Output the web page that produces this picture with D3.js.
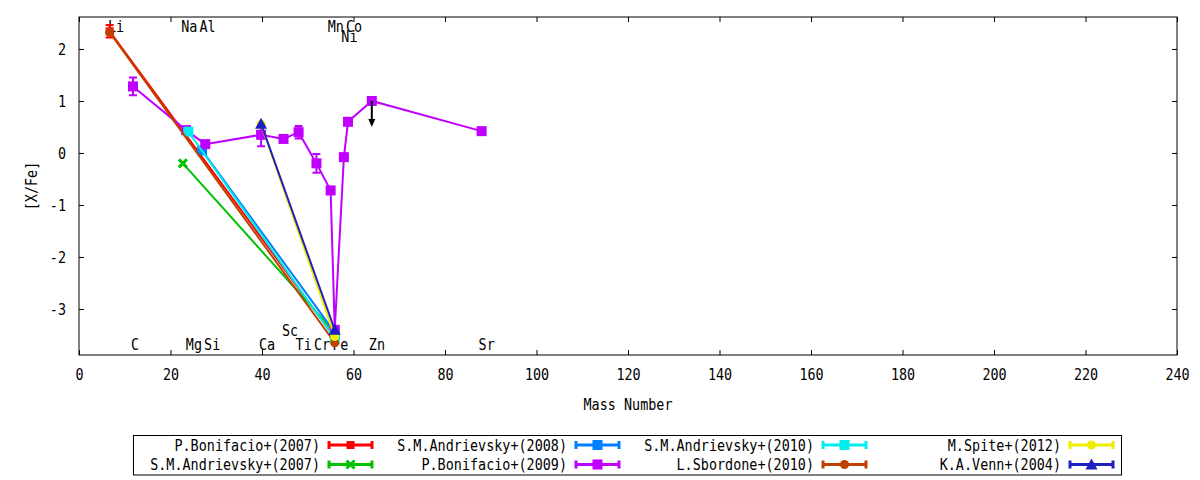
<!DOCTYPE html>
<html lang="en">
<head>
<meta charset="UTF-8">
<title>[X/Fe] vs Mass Number</title>
<script src="https://d3js.org/d3.v7.min.js"></script>
<style>
  body { margin: 0; background: #fff; }
  svg { display: block; }
  text { font-family: "DejaVu Sans Mono", monospace; font-size: 16px; fill: #000; }
</style>
</head>
<body>
<div id="chart"></div>
<script>
// element names written along the top / bottom edge of the plot
const elemNames = ["Li", "C", "Na", "Mg", "Al", "Si", "Ca", "Sc", "Ti", "Cr", "Mn", "Fe", "Ni", "Co", "Zn", "Sr"];
const elemMass  = [7, 12, 23, 24, 27, 28, 40, 45, 48, 52, 55, 56, 58, 59, 64, 88];
const elemSide  = ["top", "bottom", "top", "bottom", "top", "bottom", "bottom", "bottom2",
                   "bottom", "bottom", "top", "bottom", "top2", "top", "bottom", "bottom"];

const seriesNames = ["P.Bonifacio+(2007)", "S.M.Andrievsky+(2007)", "S.M.Andrievsky+(2008)",
                     "P.Bonifacio+(2009)", "S.M.Andrievsky+(2010)", "L.Sbordone+(2010)",
                     "M.Spite+(2012)", "K.A.Venn+(2004)"];

// mass number, [X/Fe], error
const bonifacio07Mass = [6.7, 55.9];
const bonifacio07Val  = [2.34, -3.55];
const bonifacio07Err  = [0.12, 0];

const andrievsky07Mass = [22.7, 55.9];
const andrievsky07Val  = [-0.20, -3.45];
const andrievsky07Err  = [0, 0];

const andrievsky08Mass = [26.9, 55.9];
const andrievsky08Val  = [0.05, -3.45];
const andrievsky08Err  = [0, 0];

const bonifacio09Mass  = [11.8, 23.4, 27.6, 39.8, 44.7, 48.0, 51.9, 55.0, 55.9, 57.9, 58.8, 64.0, 88.0];
const bonifacio09Val   = [1.28, 0.44, 0.17, 0.35, 0.27, 0.40, -0.20, -0.72, -3.40, -0.08, 0.60, 1.00, 0.42];
const bonifacio09Err   = [0.17, 0, 0, 0.22, 0, 0.12, 0.18, 0, 0, 0, 0, 0, 0];
const bonifacio09Limit = [0, 0, 0, 0, 0, 0, 0, 0, 0, 0, 0, 1, 0];

const andrievsky10Mass = [23.9, 55.9];
const andrievsky10Val  = [0.41, -3.57];
const andrievsky10Err  = [0, 0];

const sbordone10Mass = [6.7, 55.9];
const sbordone10Val  = [2.32, -3.65];
const sbordone10Err  = [0, 0];

const spite12Mass = [39.8, 55.9];
const spite12Val  = [0.55, -3.53];
const spite12Err  = [0, 0];

const venn04Mass = [39.8, 55.9];
const venn04Val  = [0.56, -3.40];
const venn04Err  = [0, 0];

const xTicks = [0, 20, 40, 60, 80, 100, 120, 140, 160, 180, 200, 220, 240];
const yTicks = [-3, -2, -1, 0, 1, 2];

// gnuplot-like colours and point types
const colors  = ["#ff0000", "#00c000", "#0080ff", "#c000ff", "#00eeee", "#c04000", "#eeee00", "#2020c0"];
const markers = ["rect", "x", "square", "square", "square", "circle", "circle", "triangle"];

const seriesMass = [bonifacio07Mass, andrievsky07Mass, andrievsky08Mass, bonifacio09Mass,
                    andrievsky10Mass, sbordone10Mass, spite12Mass, venn04Mass];
const seriesVal  = [bonifacio07Val, andrievsky07Val, andrievsky08Val, bonifacio09Val,
                    andrievsky10Val, sbordone10Val, spite12Val, venn04Val];
const seriesErr  = [bonifacio07Err, andrievsky07Err, andrievsky08Err, bonifacio09Err,
                    andrievsky10Err, sbordone10Err, spite12Err, venn04Err];

const width = 1200, height = 480;
const plotLeft = 79, plotRight = 1177, plotTop = 17, plotBottom = 355;

const svg = d3.select("#chart").append("svg")
  .attr("width", width)
  .attr("height", height);

const x = d3.scaleLinear().domain([0, 240]).range([plotLeft, plotRight]);
const y = d3.scaleLinear().domain([-3.885, 2.615]).range([plotBottom, plotTop]);

// text squeezed a bit horizontally, like the gnuplot bitmap font
function addText(parent, tx, ty, str, anchor, rot) {
  return parent.append("text")
    .attr("transform", `translate(${tx},${ty})${rot ? " rotate(-90)" : ""} scale(0.84,1)`)
    .attr("text-anchor", anchor)
    .text(str);
}

// plain hyphen minus, as gnuplot prints it
const plainFmt = d => String(d);

// axes (ticks point inward, mirrored on top / right)
const xAxis = svg.append("g")
  .attr("transform", `translate(0,${plotBottom})`)
  .call(d3.axisBottom(x).tickValues(xTicks).tickFormat(plainFmt).tickSize(-5).tickPadding(13.6));
const yAxis = svg.append("g")
  .attr("transform", `translate(${plotLeft},0)`)
  .call(d3.axisLeft(y).tickValues(yTicks).tickFormat(plainFmt).tickSize(-5).tickPadding(15.5));
svg.append("g")
  .attr("transform", `translate(0,${plotTop})`)
  .call(d3.axisTop(x).tickValues(xTicks).tickSize(-5).tickFormat(""));
svg.append("g")
  .attr("transform", `translate(${plotRight},0)`)
  .call(d3.axisRight(y).tickValues(yTicks).tickSize(-5).tickFormat(""));

svg.selectAll(".domain").remove();
svg.selectAll(".tick line").attr("stroke", "#000");
xAxis.selectAll("text").attr("transform", "scale(0.84,1)");
yAxis.selectAll("text").attr("transform", "scale(0.84,1)");

svg.append("rect")
  .attr("x", plotLeft).attr("y", plotTop)
  .attr("width", plotRight - plotLeft).attr("height", plotBottom - plotTop)
  .attr("fill", "none").attr("stroke", "#000").attr("stroke-width", 1);

// axis titles
addText(svg, (plotLeft + plotRight) / 2, 410, "Mass Number", "middle");
addText(svg, 37, 186, "[X/Fe]", "middle", true);

// element labels
const sideY = { top: 31.5, top2: 41.5, bottom: 350, bottom2: 336 };
elemNames.forEach((name, i) => {
  addText(svg, x(elemMass[i]) - 3, sideY[elemSide[i]], name, "start");
});

function drawMarker(g, type, cx, cy, color) {
  if (type === "square") {
    g.append("rect").attr("x", cx - 5).attr("y", cy - 5)
      .attr("width", 10).attr("height", 10).attr("fill", color);
  } else if (type === "rect") {
    g.append("rect").attr("x", cx - 4).attr("y", cy - 4)
      .attr("width", 8).attr("height", 8).attr("fill", color);
  } else if (type === "circle") {
    g.append("circle").attr("cx", cx).attr("cy", cy).attr("r", 4.5).attr("fill", color);
  } else if (type === "triangle") {
    g.append("path")
      .attr("d", `M${cx},${cy - 6}L${cx + 6},${cy + 5}L${cx - 6},${cy + 5}Z`)
      .attr("fill", color);
  } else if (type === "x") {
    g.append("path")
      .attr("d", `M${cx - 4},${cy - 4}L${cx + 4},${cy + 4}M${cx - 4},${cy + 4}L${cx + 4},${cy - 4}`)
      .attr("stroke", color).attr("stroke-width", 3);
  }
}

const line = d3.line()
  .x(d => x(d.m))
  .y(d => y(d.v));

const plot = svg.append("g");
seriesNames.forEach((name, s) => {
  const pts = seriesMass[s].map((m, i) => ({ m, v: seriesVal[s][i], e: seriesErr[s][i] }));
  const g = plot.append("g");

  g.append("path")
    .attr("d", line(pts))
    .attr("fill", "none")
    .attr("stroke", colors[s])
    .attr("stroke-width", 2);

  pts.filter(d => d.e > 0).forEach(d => {
    const cx = x(d.m), y0 = y(d.v - d.e), y1 = y(d.v + d.e);
    g.append("path")
      .attr("d", `M${cx},${y0}V${y1}M${cx - 4},${y0}H${cx + 4}M${cx - 4},${y1}H${cx + 4}`)
      .attr("fill", "none")
      .attr("stroke", colors[s])
      .attr("stroke-width", 2);
  });

  pts.forEach(d => drawMarker(g, markers[s], x(d.m), y(d.v), colors[s]));
});

// upper limit arrow (Zn, Bonifacio 2009)
const arrowLen = 0.5;
bonifacio09Limit.forEach((lim, i) => {
  if (!lim) return;
  const cx = x(bonifacio09Mass[i]);
  const y0 = y(bonifacio09Val[i]);
  const y1 = y(bonifacio09Val[i] - arrowLen);
  plot.append("line")
    .attr("x1", cx).attr("x2", cx).attr("y1", y0).attr("y2", y1 - 4)
    .attr("stroke", "#000").attr("stroke-width", 2);
  plot.append("path")
    .attr("d", `M${cx - 3.5},${y1 - 8}L${cx + 3.5},${y1 - 8}L${cx},${y1}Z`)
    .attr("fill", "#000");
});

// legend
const legend = svg.append("g");
legend.append("rect")
  .attr("x", 133.5).attr("y", 435.5)
  .attr("width", 988).attr("height", 39.5)
  .attr("fill", "none").attr("stroke", "#000").attr("stroke-width", 1);

seriesNames.forEach((name, s) => {
  const col = Math.floor(s / 2), row = s % 2;
  const sx = 329 + col * 247;
  const sy = 445 + row * 19.5;
  addText(legend, sx - 9, sy, name, "end").attr("dy", "0.36em");
  legend.append("path")
    .attr("d", `M${sx},${sy}H${sx + 43}M${sx},${sy - 4}V${sy + 4}M${sx + 43},${sy - 4}V${sy + 4}`)
    .attr("fill", "none")
    .attr("stroke", colors[s])
    .attr("stroke-width", 3);
  drawMarker(legend, markers[s], sx + 21.5, sy, colors[s]);
});
</script>
</body>
</html>
